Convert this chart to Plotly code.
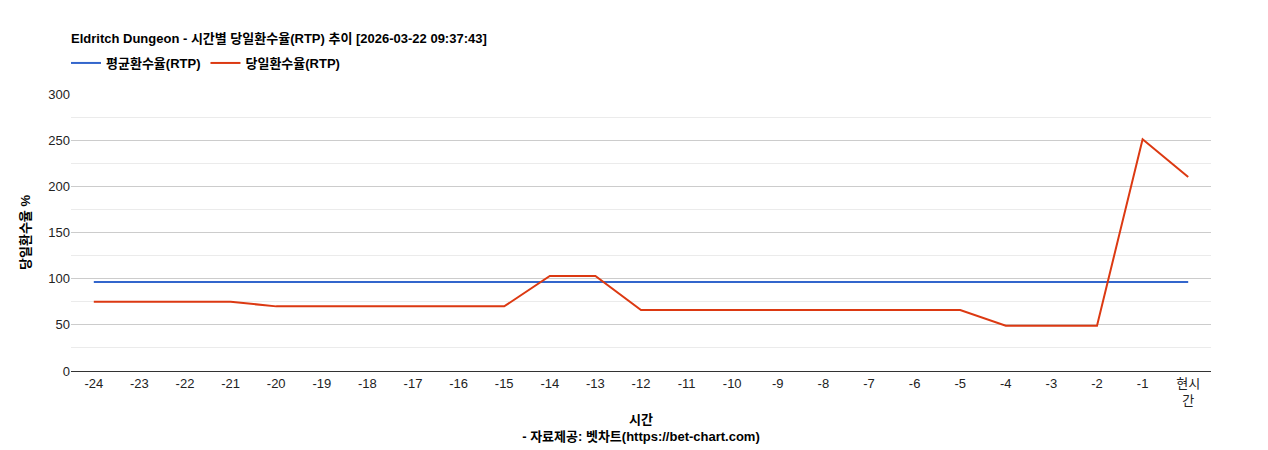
import plotly.graph_objects as go

# 시간 카테고리
hours = [str(h) for h in range(-24, 0)] + ["현시<br>간"]
avg_rtp = [96.5] * 25
day_rtp = [75, 75, 75, 75, 70, 70, 70, 70, 70, 70, 103, 103,
           66, 66, 66, 66, 66, 66, 66, 66, 49, 49, 49, 251, 210]

FONT = "Arial, 'Noto Sans CJK KR', sans-serif"

fig = go.Figure()
fig.add_trace(go.Scatter(x=hours, y=avg_rtp, mode="lines", name="<b>평균환수율(RTP)</b>",
                         line=dict(color="#3366cc", width=2)))
fig.add_trace(go.Scatter(x=hours, y=day_rtp, mode="lines", name="<b>당일환수율(RTP)</b>",
                         line=dict(color="#dc3912", width=2)))

fig.update_layout(
    width=1268, height=450,
    margin=dict(l=63, r=65, t=86, b=87, autoexpand=False),
    paper_bgcolor="white", plot_bgcolor="white",
    font=dict(family=FONT, size=13, color="#222"),
    title=dict(text="<b>Eldritch Dungeon - 시간별 당일환수율(RTP) 추이 [2026-03-22 09:37:43]</b>",
               x=63 / 1268, xref="container", xanchor="left",
               y=1 - 30 / 450, yref="container", yanchor="middle",
               font=dict(size=13, color="#000")),
    legend=dict(orientation="h", x=58 / 1268, xref="container", xanchor="left",
                y=1 - 55 / 450, yref="container", yanchor="middle",
                font=dict(size=13, color="#000"), traceorder="normal"),
    showlegend=True,
)
fig.update_xaxes(
    title=dict(text="<b>시간</b><br><b>- 자료제공: 벳차트(https://bet-chart.com)</b>",
               font=dict(size=13, color="#000"), standoff=8),
    range=[-0.5, 24.5], automargin=False,
    showgrid=False, showline=True, linecolor="#333", ticks="", tickangle=0,
    tickfont=dict(size=13, color="#222"),
)
fig.update_yaxes(
    title=dict(text="<b>당일환수율 %</b>", font=dict(size=13, color="#000"), standoff=14),
    range=[0, 300], dtick=50, gridcolor="#cccccc", zeroline=False, automargin=False,
    minor=dict(dtick=25, showgrid=True, gridcolor="#ebebeb"),
    tickfont=dict(size=13, color="#222"),
)

fig.write_html("out.html")
